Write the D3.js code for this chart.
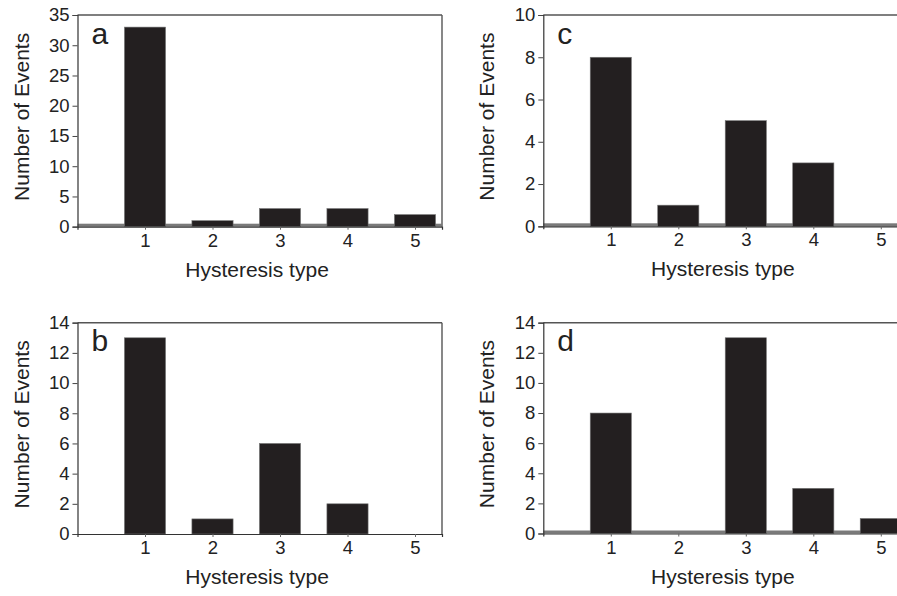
<!DOCTYPE html>
<html>
<head>
<meta charset="utf-8">
<script src="https://cdn.jsdelivr.net/npm/d3@7"></script>
<style>
  html, body { margin: 0; padding: 0; background: #fff; }
  svg { display: block; font-family: "Liberation Sans", Arial, sans-serif; }
</style>
</head>
<body>
<svg id="chart" width="897" height="596"></svg>
<script>
// ---- data ----
const categories = [1, 2, 3, 4, 5];
const valuesA = [33, 1, 3, 3, 2];
const valuesB = [13, 1, 6, 2, 0];
const valuesC = [8, 1, 5, 3, 0];
const valuesD = [8, 0, 13, 3, 1];
const yTicksA = [0, 5, 10, 15, 20, 25, 30, 35];
const yTicksB = [0, 2, 4, 6, 8, 10, 12, 14];
const yTicksC = [0, 2, 4, 6, 8, 10];
const yTicksD = [0, 2, 4, 6, 8, 10, 12, 14];
const panelLetters = ["a", "b", "c", "d"];
const xTitle = "Hysteresis type";
const yTitle = "Number of Events";

// ---- layout ----
const panels = [
  { letter: panelLetters[0], values: valuesA, ticks: yTicksA, ymax: 35, left: 77.5, top: 15, bottom: 226.7, band: true },
  { letter: panelLetters[1], values: valuesB, ticks: yTicksB, ymax: 14, left: 77.5, top: 322.7, bottom: 534, band: false },
  { letter: panelLetters[2], values: valuesC, ticks: yTicksC, ymax: 10, left: 543.3, top: 15, bottom: 226.3, band: true },
  { letter: panelLetters[3], values: valuesD, ticks: yTicksD, ymax: 14, left: 543.3, top: 322.7, bottom: 533.5, band: true }
];
const unit = 67.5;
const xMax = 5.4;
const barW = 0.61;
const tickFont = 18.5;

const svg = d3.select("#chart");

panels.forEach(p => {
  const right = p.left + xMax * unit;
  const x = d3.scaleLinear().domain([0, xMax]).range([p.left, right]);
  const y = d3.scaleLinear().domain([0, p.ymax]).range([p.bottom, p.top]);
  const g = svg.append("g");

  // frame top and right
  g.append("line").attr("x1", p.left).attr("x2", right).attr("y1", p.top).attr("y2", p.top)
    .attr("stroke", "#555").attr("stroke-width", 1.4);
  g.append("line").attr("x1", right).attr("x2", right).attr("y1", p.top).attr("y2", p.bottom)
    .attr("stroke", "#555").attr("stroke-width", 1.4);

  // grey baseline band
  if (p.band) {
    g.append("rect").attr("x", p.left).attr("y", y(0) - 3).attr("width", right - p.left).attr("height", 3)
      .attr("fill", "#7a7a7a");
  }

  // bars
  g.selectAll("rect.bar").data(categories.map((c, i) => ({ c, v: p.values[i] })))
    .join("rect").attr("class", "bar")
    .attr("x", d => x(d.c - barW / 2))
    .attr("width", d => x(barW) - x(0))
    .attr("y", d => y(d.v))
    .attr("height", d => y(0) - y(d.v))
    .attr("fill", "#231f20")
    .attr("stroke", "#777").attr("stroke-width", 0.6);

  // x axis
  const xa = g.append("g").attr("transform", `translate(0,${p.bottom})`)
    .attr("font-size", tickFont).attr("font-family", "Liberation Sans, Arial, sans-serif")
    .call(d3.axisBottom(x).tickValues(categories).tickSize(3).tickPadding(4).tickFormat(d3.format("d")));
  xa.attr("font-size", tickFont).attr("font-family", "Liberation Sans, Arial, sans-serif");
  xa.select(".domain").attr("stroke", "#333").attr("stroke-width", 1.2);
  xa.selectAll(".tick line").attr("stroke", "#666");
  xa.selectAll(".tick text").style("font-size", tickFont + "px").attr("fill", "#222");

  // y axis
  const ya = g.append("g").attr("transform", `translate(${p.left},0)`)
    .call(d3.axisLeft(y).tickValues(p.ticks).tickSize(5).tickPadding(3).tickFormat(d3.format("d")));
  ya.attr("font-size", tickFont).attr("font-family", "Liberation Sans, Arial, sans-serif");
  ya.select(".domain").attr("stroke", "#333").attr("stroke-width", 1.2);
  ya.selectAll(".tick line").attr("stroke", "#444");
  ya.selectAll(".tick text").style("font-size", tickFont + "px").attr("fill", "#222");

  // panel letter
  g.append("text").attr("x", p.left + 14).attr("y", p.top + 28.5)
    .attr("font-size", 30).attr("fill", "#222").text(p.letter);

  // x title
  g.append("text").attr("x", x(2.66)).attr("y", p.bottom + 50)
    .attr("text-anchor", "middle").attr("font-size", 21).attr("fill", "#222").text(xTitle);

  // y title
  const cy = (p.top + p.bottom) / 2 - 4;
  g.append("text").attr("transform", `translate(${p.left - 49},${cy}) rotate(-90)`)
    .attr("text-anchor", "middle").attr("font-size", 21).attr("fill", "#222").text(yTitle);
});
</script>
</body>
</html>
